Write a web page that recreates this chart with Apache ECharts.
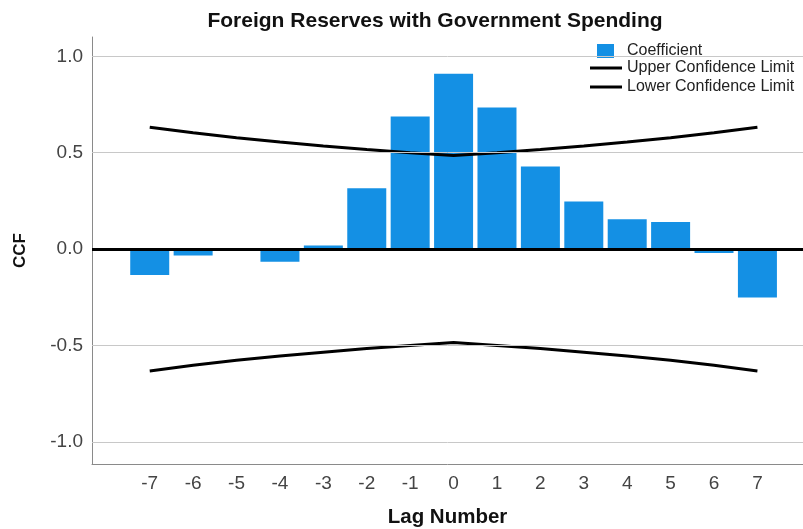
<!DOCTYPE html>
<html>
<head>
<meta charset="utf-8">
<script src="https://cdn.jsdelivr.net/npm/echarts@6/dist/echarts.min.js"></script>
<style>html,body{margin:0;padding:0;background:#fff;}#c{width:803px;height:529px;}</style>
</head>
<body>
<div id="c"></div>
<script>
var lags = [-7,-6,-5,-4,-3,-2,-1,0,1,2,3,4,5,6,7];
var coefficient = [-0.135,-0.033,-0.006,-0.066,0.018,0.316,0.688,0.909,0.734,0.428,0.247,0.154,0.140,-0.020,-0.251];
var upperLimit = [0.632,0.603,0.577,0.555,0.535,0.516,0.500,0.485,0.500,0.516,0.535,0.555,0.577,0.603,0.632];
var lowerLimit = [-0.632,-0.603,-0.577,-0.555,-0.535,-0.516,-0.500,-0.485,-0.500,-0.516,-0.535,-0.555,-0.577,-0.603,-0.632];
var yTicks = [-1.0,-0.5,0.0,0.5,1.0];
var gridValues = [-1.0,-0.5,0.5,1.0];

function pairs(xs, ys){ return xs.map(function(x,i){ return [x, ys[i]]; }); }

var chart = echarts.init(document.getElementById('c'));
var font = '"Liberation Sans", Arial, sans-serif';
chart.setOption({
  animation: false,
  textStyle: { fontFamily: font },
  title: {
    text: 'Foreign Reserves with Government Spending',
    left: 430, top: 6, textAlign: 'center',
    textStyle: { fontFamily: font, fontWeight: 'bold', fontSize: 21, color: '#111' }
  },
  legend: [{
    data: [{ name: 'Coefficient', icon: 'rect' }],
    left: 597, top: 43, orient: 'vertical', padding: 0,
    itemWidth: 17, itemHeight: 14,
    textStyle: { fontFamily: font, fontSize: 16, color: '#222', padding: [0,0,0,8] }
  },{
    data: [{ name: 'Upper Confidence Limit', icon: 'rect' }, { name: 'Lower Confidence Limit', icon: 'rect' }],
    left: 590, top: 60, orient: 'vertical', itemGap: 3, padding: 0,
    itemWidth: 32, itemHeight: 3,
    textStyle: { fontFamily: font, fontSize: 16, color: '#222' }
  }],
  grid: { left: 92, right: 0, top: 37, bottom: 65, outerBoundsMode: 'none' },
  xAxis: {
    type: 'value', min: -8.33, max: 8.05,
    name: 'Lag Number', nameLocation: 'middle', nameGap: 43,
    nameTextStyle: { fontFamily: font, fontWeight: 'bold', fontSize: 20.5, color: '#111' },
    axisLine: { show: true, onZero: false, lineStyle: { color: '#8a8a8a', width: 1 } },
    axisTick: { show: false },
    splitLine: { show: false },
    axisLabel: { customValues: lags, fontSize: 19, color: '#444', margin: 10, formatter: function(v){ return String(v); } }
  },
  yAxis: {
    type: 'value', min: -1.115, max: 1.1,
    name: 'CCF', nameLocation: 'middle', nameGap: 63, nameRotate: 90,
    nameTextStyle: { fontFamily: font, fontWeight: 'bold', fontSize: 17, color: '#111' },
    axisLine: { show: true, onZero: false, lineStyle: { color: '#8a8a8a', width: 1 } },
    axisTick: { show: false },
    splitLine: { show: false },
    axisLabel: { customValues: yTicks, fontSize: 19, color: '#444', margin: 9, formatter: function(v){ return v.toFixed(1); } }
  },
  series: [
    {
      type: 'line', name: 'grid', data: [], z: 1, silent: true,
      markLine: {
        silent: true, symbol: 'none', label: { show: false },
        lineStyle: { color: '#c8c8c8', width: 1, type: 'solid' },
        data: gridValues.map(function(v){ return { yAxis: v }; })
      }
    },
    {
      type: 'bar', name: 'Coefficient', data: pairs(lags, coefficient), barWidth: 39, z: 2,
      itemStyle: { color: '#1490e4' }
    },
    {
      type: 'line', name: 'Upper Confidence Limit', data: pairs(lags, upperLimit), z: 3,
      symbol: 'none', lineStyle: { color: '#000', width: 3 }, itemStyle: { color: '#000' },
      markLine: {
        silent: true, symbol: 'none', label: { show: false },
        lineStyle: { color: '#000', width: 3, type: 'solid' },
        data: [{ yAxis: 0 }]
      }
    },
    {
      type: 'line', name: 'Lower Confidence Limit', data: pairs(lags, lowerLimit), z: 3,
      symbol: 'none', lineStyle: { color: '#000', width: 3 }, itemStyle: { color: '#000' }
    }
  ]
});
</script>
</body>
</html>
